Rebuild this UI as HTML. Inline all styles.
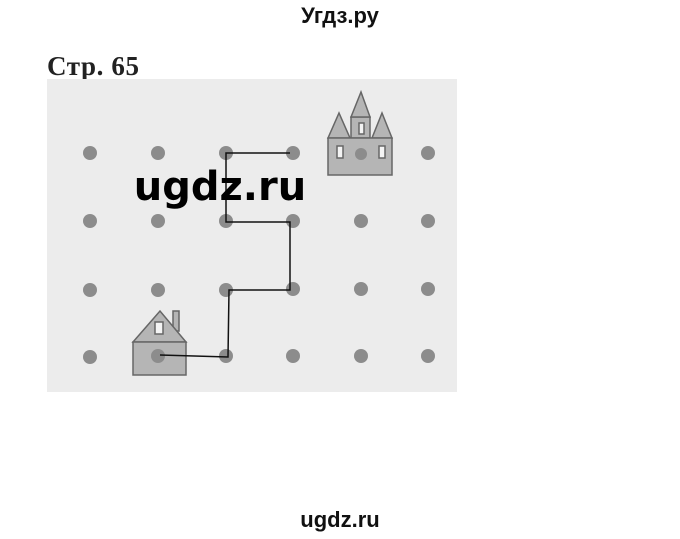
<!DOCTYPE html>
<html><head><meta charset="utf-8"><style>
html,body{margin:0;padding:0;background:#fff;width:680px;height:539px;overflow:hidden}
</style></head><body>
<svg width="680" height="539" viewBox="0 0 680 539" xmlns="http://www.w3.org/2000/svg">
<text x="340" y="23" text-anchor="middle" font-family="Liberation Sans, sans-serif" font-weight="bold" font-size="22" fill="#111">Угдз.ру</text>
<text x="47" y="75" font-family="Liberation Serif, serif" font-weight="bold" font-size="27" fill="#222" textLength="92">Стр. 65</text>
<rect x="47" y="79" width="410" height="313" fill="#ececec"/>
<g fill="#8c8c8c">
<circle cx="90" cy="153" r="7"/><circle cx="158" cy="153" r="7"/><circle cx="226" cy="153" r="7"/><circle cx="293" cy="153" r="7"/><circle cx="428" cy="153" r="7"/>
<circle cx="90" cy="221" r="7"/><circle cx="158" cy="221" r="7"/><circle cx="226" cy="221" r="7"/><circle cx="293" cy="221" r="7"/><circle cx="361" cy="221" r="7"/><circle cx="428" cy="221" r="7"/>
<circle cx="90" cy="290" r="7"/><circle cx="158" cy="290" r="7"/><circle cx="226" cy="290" r="7"/><circle cx="293" cy="289" r="7"/><circle cx="361" cy="289" r="7"/><circle cx="428" cy="289" r="7"/>
<circle cx="90" cy="357" r="7"/><circle cx="226" cy="356" r="7"/><circle cx="293" cy="356" r="7"/><circle cx="361" cy="356" r="7"/><circle cx="428" cy="356" r="7"/>
</g>
<g stroke="#666" stroke-width="1.5" fill="#b5b5b5">
<polygon points="328,138 339,113 350,138"/>
<polygon points="372,138 382,113 392,138"/>
<rect x="351" y="117" width="19" height="21"/>
<polygon points="351,117 361,92 370,117"/>
<rect x="328" y="138" width="64" height="37"/>
<rect x="359" y="123" width="5" height="11" fill="#f4f4f4"/>
<rect x="337" y="146" width="6" height="12" fill="#f4f4f4"/>
<rect x="379" y="146" width="6" height="12" fill="#f4f4f4"/>
<rect x="173" y="311" width="6" height="20"/>
<polygon points="133,342 160,311 186,342"/>
<rect x="133" y="342" width="53" height="33"/>
<rect x="155" y="322" width="8" height="12" fill="#f4f4f4"/>
</g>
<circle cx="361" cy="154" r="6" fill="#8c8c8c"/>
<circle cx="158" cy="356" r="7" fill="#8c8c8c"/>
<polyline points="160,355 228,357 229,290 290,290 290,222 226,222 226,153 290,153" fill="none" stroke="#111" stroke-width="1.5"/>
<text x="220" y="200" text-anchor="middle" font-family="DejaVu Sans, sans-serif" font-weight="bold" font-size="40" fill="#000">ugdz.ru</text>
<text x="340" y="527" text-anchor="middle" font-family="Liberation Sans, sans-serif" font-weight="bold" font-size="22" fill="#111">ugdz.ru</text>
</svg>
</body></html>
